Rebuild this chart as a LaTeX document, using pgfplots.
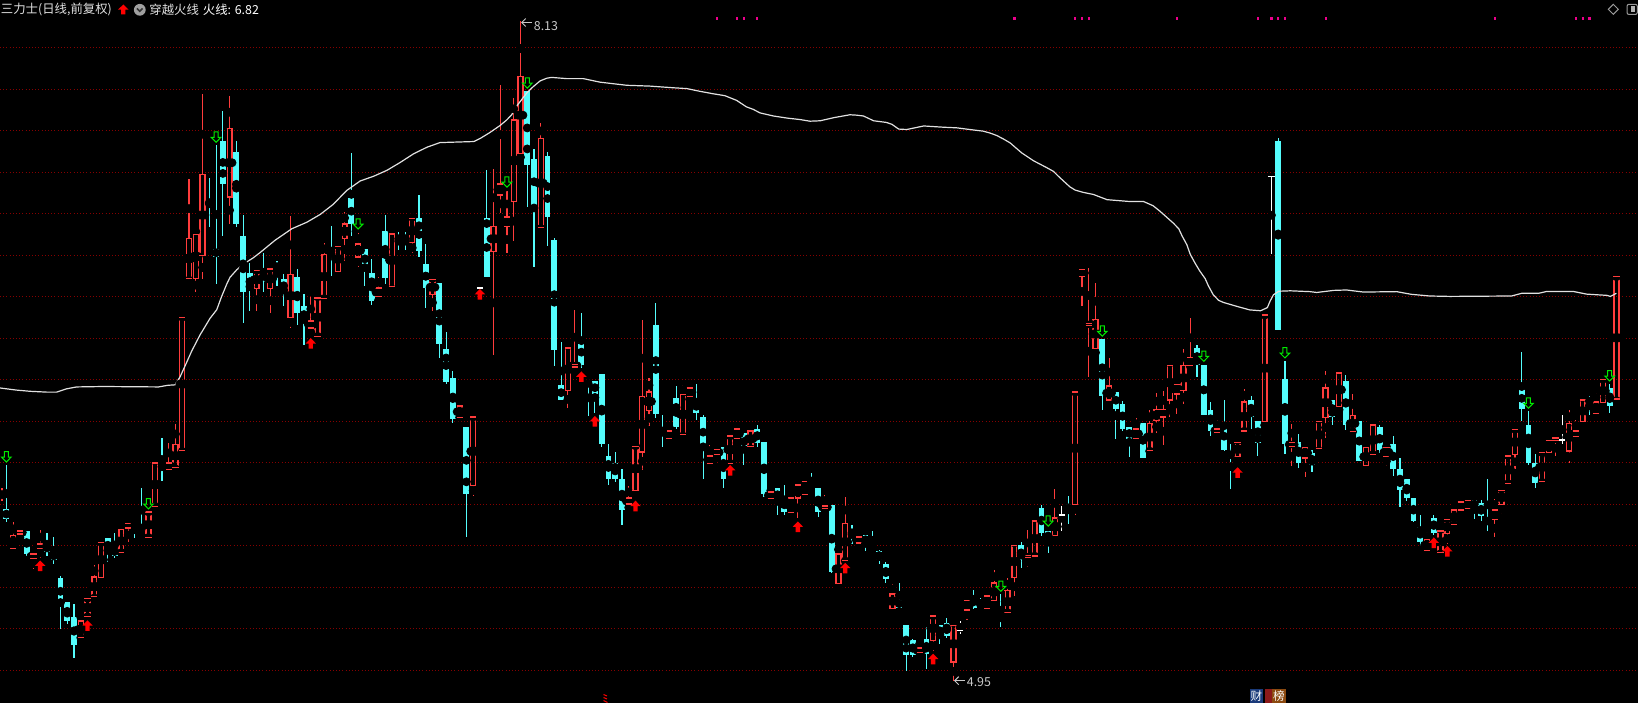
\documentclass[border=0pt]{standalone}
\usepackage{pgfplots}
\pgfplotsset{compat=1.18}
\usepackage{pgfplotstable}
\usepackage{fontspec}
\newfontfamily\cjk{Noto Sans CJK SC}
\usetikzlibrary{arrows.meta}

\definecolor{upred}{RGB}{255,60,60}
\definecolor{dncyan}{RGB}{84,252,252}
\definecolor{gridred}{RGB}{135,0,0}
\definecolor{fireline}{RGB}{225,225,225}
\definecolor{sigred}{RGB}{255,0,0}
\definecolor{siggreen}{RGB}{0,235,0}
\definecolor{txtgray}{RGB}{225,225,225}
\definecolor{lblgray}{RGB}{200,200,200}
\definecolor{badgeblue}{RGB}{26,58,122}
\definecolor{badgered}{RGB}{140,26,26}
\definecolor{badgebrown}{RGB}{140,74,16}

% red buy arrow, tip at the data point
\pgfdeclareplotmark{uparrow}{%
  \pgfpathmoveto{\pgfqpoint{0pt}{0pt}}%
  \pgfpathlineto{\pgfqpoint{2.6pt}{-2.7pt}}%
  \pgfpathlineto{\pgfqpoint{1.1pt}{-2.7pt}}%
  \pgfpathlineto{\pgfqpoint{1.1pt}{-5.3pt}}%
  \pgfpathlineto{\pgfqpoint{-1.1pt}{-5.3pt}}%
  \pgfpathlineto{\pgfqpoint{-1.1pt}{-2.7pt}}%
  \pgfpathlineto{\pgfqpoint{-2.6pt}{-2.7pt}}%
  \pgfpathclose
  \pgfusepathqfill}
% green hollow sell arrow, tip at the data point
\pgfdeclareplotmark{dnarrow}{%
  \pgfpathmoveto{\pgfqpoint{0pt}{0.25pt}}%
  \pgfpathlineto{\pgfqpoint{2.4pt}{2.7pt}}%
  \pgfpathlineto{\pgfqpoint{1pt}{2.7pt}}%
  \pgfpathlineto{\pgfqpoint{1pt}{5.4pt}}%
  \pgfpathlineto{\pgfqpoint{-1pt}{5.4pt}}%
  \pgfpathlineto{\pgfqpoint{-1pt}{2.7pt}}%
  \pgfpathlineto{\pgfqpoint{-2.4pt}{2.7pt}}%
  \pgfpathclose
  \pgfusepathqstroke}
% horizontal edge of a candle box
\pgfdeclareplotmark{edge}{%
  \pgfpathmoveto{\pgfqpoint{-1.55pt}{0pt}}%
  \pgfpathlineto{\pgfqpoint{1.55pt}{0pt}}%
  \pgfusepathqstroke}

\pgfplotsset{
  candleline/.style={only marks, mark=none, error bars/error mark=none,
    error bars/error bar style={draw=#1, line width=0.55pt}},
  candleside/.style={only marks, mark=none, error bars/error mark=none,
    error bars/error bar style={draw=#1, line width=0.65pt}},
  candleedge/.style={only marks, mark=edge, mark options={draw=#1, line width=0.65pt}},
}

% candles: i open high low close
\pgfplotstableread{
i o h l c
0 5.817 5.876 5.817 5.876
2 5.588 5.713 5.588 5.650
3 5.657 5.702 5.619 5.671
5 5.539 5.560 5.489 5.560
6 5.588 5.675 5.542 5.608
12 5.157 5.274 5.157 5.237
13 5.258 5.347 5.258 5.347
14 5.356 5.508 5.341 5.450
15 5.448 5.617 5.414 5.617
18 5.567 5.717 5.567 5.679
19 5.685 5.734 5.619 5.708
22 5.640 5.763 5.640 5.763
23 5.790 6.018 5.790 5.999
25 5.968 6.095 5.932 5.999
26 5.978 6.187 5.963 6.089
27 6.058 6.701 6.051 6.701
28 6.887 7.367 6.872 7.081
29 6.887 7.127 6.824 7.100
30 6.998 7.777 6.883 7.388
34 7.280 7.766 7.152 7.610
38 6.839 6.929 6.732 6.925
40 6.839 6.937 6.722 6.933
43 6.701 7.190 6.651 6.908
46 6.649 6.799 6.611 6.682
47 6.609 6.805 6.609 6.793
48 6.791 7.058 6.791 7.002
50 6.920 7.050 6.883 7.043
51 7.079 7.208 6.974 7.150
53 6.991 7.106 6.945 7.054
56 6.801 6.897 6.762 6.841
58 6.849 7.127 6.824 7.102
61 7.060 7.190 7.010 7.175
64 6.810 6.895 6.732 6.881
68 6.218 6.317 6.218 6.273
70 5.890 6.220 5.842 6.220
73 7.019 7.415 6.521 7.138
74 7.290 7.819 7.204 7.342
75 7.138 7.309 7.012 7.183
76 7.259 7.758 7.068 7.651
77 7.488 8.130 7.455 7.860
80 7.133 7.635 7.123 7.561
84 6.348 6.573 6.262 6.553
85 6.461 6.736 6.427 6.473
93 5.801 5.888 5.767 5.830
94 5.865 6.085 5.832 6.078
95 6.051 6.688 5.963 6.319
96 6.250 6.406 6.177 6.340
99 6.118 6.187 6.099 6.152
101 6.137 6.375 6.120 6.329
102 6.319 6.402 6.293 6.360
105 5.997 6.085 5.963 6.032
106 6.039 6.095 6.034 6.062
108 5.997 6.129 5.997 6.129
109 6.116 6.187 6.074 6.162
111 6.078 6.187 6.058 6.152
114 5.826 5.874 5.813 5.859
117 5.761 5.830 5.761 5.830
118 5.830 5.893 5.734 5.893
119 5.846 5.917 5.846 5.909
122 5.780 5.844 5.780 5.792
124 5.418 5.604 5.385 5.560
125 5.529 5.836 5.525 5.708
127 5.613 5.667 5.598 5.642
132 5.299 5.416 5.266 5.368
136 5.086 5.147 5.082 5.107
138 5.143 5.262 5.092 5.262
141 5.040 5.243 4.950 5.215
143 5.291 5.351 5.243 5.337
146 5.299 5.366 5.299 5.358
147 5.337 5.483 5.303 5.420
149 5.278 5.445 5.278 5.383
150 5.448 5.627 5.358 5.600
152 5.542 5.675 5.500 5.552
153 5.550 5.744 5.550 5.719
156 5.650 5.874 5.621 5.734
159 5.800 6.340 5.750 6.340
160 6.897 6.966 6.753 6.931
161 6.661 6.939 6.413 6.672
162 6.550 6.866 6.511 6.690
164 6.302 6.505 6.277 6.369
168 6.116 6.214 6.093 6.162
170 6.058 6.254 6.054 6.189
171 6.202 6.336 6.143 6.256
172 6.220 6.344 6.083 6.256
173 6.302 6.492 6.220 6.469
174 6.331 6.402 6.235 6.377
175 6.348 6.549 6.283 6.469
176 6.469 6.697 6.461 6.507
180 6.147 6.204 6.131 6.162
183 6.030 6.114 5.995 6.099
184 6.152 6.356 6.152 6.293
187 6.200 6.711 6.162 6.711
191 6.078 6.187 5.984 6.097
193 6.022 6.114 5.932 6.072
195 6.068 6.214 6.047 6.200
196 6.218 6.444 6.120 6.360
198 6.271 6.454 6.239 6.432
200 6.149 6.333 6.149 6.229
202 5.986 6.103 5.953 6.072
203 6.039 6.216 6.039 6.181
205 6.030 6.085 5.984 6.072
211 5.577 5.665 5.563 5.629
213 5.567 5.686 5.556 5.671
214 5.658 5.736 5.609 5.725
215 5.704 5.795 5.698 5.772
216 5.772 5.820 5.747 5.810
217 5.778 5.818 5.761 5.818
221 5.725 5.825 5.643 5.772
222 5.799 5.878 5.751 5.867
223 5.899 6.036 5.899 6.032
224 6.038 6.161 5.971 6.161
228 5.909 6.049 5.903 6.049
229 6.049 6.116 6.011 6.108
230 6.106 6.157 6.034 6.119
232 6.057 6.254 6.000 6.190
233 6.127 6.205 6.091 6.152
234 6.197 6.324 6.163 6.302
236 6.237 6.336 6.231 6.292
237 6.290 6.402 6.250 6.402
239 6.307 6.896 6.292 6.896
}\uptab

\pgfplotstableread{
i o h l c
1 5.775 5.989 5.713 5.730
4 5.671 5.671 5.552 5.560
7 5.608 5.663 5.552 5.571
8 5.571 5.642 5.514 5.531
9 5.441 5.452 5.201 5.320
10 5.329 5.329 5.222 5.239
11 5.253 5.320 5.061 5.124
16 5.634 5.634 5.521 5.571
17 5.592 5.663 5.542 5.552
20 5.719 5.719 5.636 5.702
21 5.700 5.878 5.665 5.671
24 5.989 6.120 5.911 5.972
31 7.261 7.372 7.133 7.234
32 7.029 7.530 6.862 6.993
33 7.549 7.695 7.092 7.344
35 7.493 7.549 7.133 7.152
36 7.092 7.194 6.674 6.824
37 6.910 6.964 6.732 6.835
39 6.925 7.010 6.824 6.872
41 6.954 6.972 6.851 6.935
42 6.881 6.910 6.753 6.824
44 6.891 6.933 6.665 6.722
45 6.751 6.814 6.565 6.676
49 7.010 7.140 6.899 7.002
52 7.271 7.493 7.092 7.152
54 7.029 7.029 6.851 6.935
55 6.910 6.981 6.762 6.782
57 7.112 7.194 6.862 6.893
59 7.083 7.112 7.023 7.075
60 7.092 7.112 7.023 7.066
62 7.175 7.290 6.993 7.023
63 6.954 7.054 6.743 6.843
65 6.862 6.862 6.502 6.574
66 6.544 6.630 6.379 6.392
67 6.404 6.442 6.191 6.214
69 6.172 6.172 5.644 5.851
72 7.175 7.411 6.893 6.899
78 7.789 7.789 7.234 7.436
79 7.463 7.509 6.945 7.244
81 7.474 7.499 7.046 7.186
82 7.073 7.081 6.465 6.546
83 6.371 6.580 6.304 6.304
86 6.592 6.722 6.454 6.473
87 6.390 6.402 6.223 6.375
88 6.390 6.390 6.239 6.333
89 6.423 6.423 6.074 6.093
90 6.032 6.089 5.895 5.922
91 5.999 6.051 5.905 5.922
92 5.922 5.968 5.702 5.775
97 6.663 6.770 6.214 6.235
98 6.152 6.231 6.074 6.141
100 6.312 6.371 6.162 6.172
103 6.302 6.379 6.204 6.241
104 6.220 6.231 5.922 6.074
107 6.072 6.072 5.880 5.922
110 6.139 6.139 5.990 6.064
112 6.162 6.183 6.074 6.099
113 6.099 6.099 5.834 5.851
115 5.878 5.878 5.750 5.813
116 5.830 5.893 5.750 5.765
120 5.901 5.951 5.872 5.880
121 5.876 5.876 5.740 5.765
123 5.796 5.796 5.468 5.477
126 5.671 5.700 5.608 5.654
128 5.650 5.650 5.573 5.608
129 5.608 5.671 5.581 5.590
130 5.573 5.581 5.514 5.533
131 5.512 5.521 5.420 5.441
133 5.339 5.420 5.303 5.303
134 5.218 5.218 4.996 5.074
135 5.143 5.149 5.063 5.074
137 5.149 5.207 5.007 5.082
139 5.215 5.215 5.126 5.165
140 5.226 5.253 5.155 5.165
144 5.358 5.389 5.295 5.303
145 5.329 5.349 5.295 5.303
148 5.264 5.368 5.211 5.243
151 5.600 5.619 5.491 5.531
154 5.782 5.794 5.646 5.665
155 5.671 5.671 5.563 5.623
158 5.800 5.842 5.705 5.765
163 6.592 6.592 6.252 6.323
165 6.340 6.340 6.114 6.262
166 6.283 6.296 6.155 6.164
167 6.172 6.172 6.026 6.110
169 6.191 6.191 6.026 6.026
177 6.550 6.569 6.413 6.473
178 6.469 6.469 6.233 6.233
179 6.250 6.292 6.131 6.156
181 6.191 6.302 6.054 6.064
182 6.051 6.091 5.872 6.026
185 6.302 6.319 6.162 6.223
186 6.200 6.200 6.032 6.099
189 7.549 7.562 6.642 6.642
190 6.402 6.490 6.043 6.093
192 6.097 6.139 5.974 6.001
194 6.043 6.062 5.953 5.990
197 6.302 6.302 6.183 6.220
199 6.390 6.423 6.156 6.183
201 6.200 6.200 6.009 6.009
204 6.172 6.181 6.047 6.062
206 6.089 6.128 5.936 5.970
207 5.970 6.022 5.786 5.872
208 5.922 5.922 5.815 5.832
209 5.830 5.830 5.713 5.721
210 5.690 5.748 5.598 5.621
212 5.730 5.748 5.654 5.665
218 5.820 5.820 5.730 5.782
219 5.804 5.820 5.721 5.747
220 5.727 5.922 5.672 5.711
225 6.360 6.533 6.201 6.260
226 6.182 6.248 5.990 6.000
227 5.998 6.040 5.880 5.903
235 6.311 6.319 6.231 6.283
238 6.360 6.379 6.239 6.275
}\dntab

\pgfplotstableread{
i o h l c
71 6.841 6.845 6.837 6.841
142 5.191 5.239 5.174 5.191
157 5.748 5.792 5.673 5.748
188 7.380 7.380 7.004 7.380
231 6.110 6.228 6.091 6.110
}\flattab

% 火线
\pgfplotstableread{
i p
0.06 6.360
2.42 6.350
4.49 6.344
6.96 6.340
8.44 6.340
9.92 6.356
11.4 6.365
15.3 6.367
23.5 6.365
24.9 6.373
25.93 6.375
26.67 6.413
27.4 6.465
28.4 6.538
29.62 6.615
31.1 6.695
32.1 6.737
32.8 6.799
33.6 6.862
34.06 6.893
35.05 6.929
36.0 6.956
37.5 6.987
38.5 7.012
40.7 7.071
43.2 7.127
45.4 7.158
47.4 7.196
49.3 7.244
51.3 7.311
53.3 7.357
55.3 7.380
57.3 7.409
59.2 7.446
61.2 7.488
63.2 7.520
65.1 7.542
70.1 7.547
71.1 7.563
72.5 7.591
73.97 7.624
74.96 7.651
75.7 7.676
76.44 7.718
77.18 7.749
77.92 7.781
78.9 7.812
79.9 7.839
80.87 7.852
81.6 7.856
83.83 7.850
86.3 7.850
88.75 7.833
92.7 7.818
96.15 7.814
99.6 7.806
101.6 7.802
103.5 7.789
105.5 7.777
107.2 7.768
107.97 7.758
108.96 7.745
109.7 7.729
110.4 7.714
111.4 7.702
112.4 7.685
114.4 7.670
116.4 7.660
118.3 7.653
119.8 7.645
121.3 7.647
123.3 7.662
125.7 7.676
126.7 7.674
127.7 7.670
129.2 7.647
131.1 7.639
131.9 7.630
132.9 7.607
134.1 7.605
136.6 7.622
139.5 7.616
141.5 7.613
143.4 7.605
145.4 7.597
146.4 7.588
147.4 7.576
148.4 7.559
149.4 7.540
150.1 7.520
151.1 7.492
152.8 7.455
154.8 7.421
155.8 7.403
156.5 7.380
157.2 7.359
158.2 7.329
159.0 7.313
160.2 7.302
161.7 7.292
163.7 7.267
167.1 7.258
169.1 7.258
170.5 7.238
171.5 7.212
172.5 7.183
173.5 7.154
174.3 7.127
174.8 7.092
175.5 7.050
176.0 7.004
176.7 6.962
177.4 6.924
178.2 6.887
178.7 6.851
179.4 6.809
180.2 6.782
180.9 6.772
182.9 6.753
184.8 6.736
186.4 6.732
187.4 6.747
187.8 6.778
188.3 6.809
189.1 6.826
190.8 6.828
193.7 6.824
194.7 6.820
197.2 6.830
199.1 6.832
201.6 6.822
206.5 6.824
208.7 6.811
211.4 6.803
214.4 6.801
223.5 6.803
225.0 6.816
227.5 6.816
228.7 6.825
232.6 6.825
234.6 6.812
237.6 6.806
238.1 6.801
239.0 6.816
}\fire

\begin{document}
\begin{tikzpicture}
\fill[black] (0,0) rectangle (819pt,351.5pt);
\begin{axis}[
  at={(0pt,0pt)}, anchor=south west,
  scale only axis, width=819pt, height=351.5pt,
  xmin=0.06, xmax=242.19, ymin=4.8425, ymax=8.2288,
  axis line style={draw=none},
  xtick=\empty,
  ytick={5,5.2,...,8.01},
  yticklabels={},
  major tick length=0pt,
  ymajorgrids,
  grid style={gridred, line width=0.5pt, dash pattern=on 0.5pt off 1.1pt},
  every axis plot/.append style={line cap=butt},
]
% rising candles: hollow red boxes, wicks outside the box
\addplot[candleline=upred, error bars/.cd, y dir=both, y explicit]
  table[x=i, y expr={(\thisrow{h}+max(\thisrow{o},\thisrow{c}))/2},
        y error expr={(\thisrow{h}-max(\thisrow{o},\thisrow{c}))/2}] {\uptab};
\addplot[candleline=upred, error bars/.cd, y dir=both, y explicit]
  table[x=i, y expr={(\thisrow{l}+min(\thisrow{o},\thisrow{c}))/2},
        y error expr={(min(\thisrow{o},\thisrow{c})-\thisrow{l})/2}] {\uptab};
\addplot[candleside=upred, error bars/.cd, y dir=both, y explicit]
  table[x expr={\thisrow{i}-0.36}, y expr={(\thisrow{o}+\thisrow{c})/2},
        y error expr={abs(\thisrow{c}-\thisrow{o})/2+0.003}] {\uptab};
\addplot[candleside=upred, error bars/.cd, y dir=both, y explicit]
  table[x expr={\thisrow{i}+0.36}, y expr={(\thisrow{o}+\thisrow{c})/2},
        y error expr={abs(\thisrow{c}-\thisrow{o})/2+0.003}] {\uptab};
\addplot[candleedge=upred] table[x=i, y expr={max(\thisrow{o},\thisrow{c})}] {\uptab};
\addplot[candleedge=upred] table[x=i, y expr={min(\thisrow{o},\thisrow{c})}] {\uptab};
% falling candles: filled cyan
\addplot[candleline=dncyan, error bars/.cd, y dir=both, y explicit]
  table[x=i, y expr={(\thisrow{h}+\thisrow{l})/2}, y error expr={(\thisrow{h}-\thisrow{l})/2}] {\dntab};
\addplot[only marks, mark=none, error bars/.cd, y dir=both, y explicit, error mark=none,
  error bar style={draw=dncyan, line width=2.9pt}]
  table[x=i, y expr={(\thisrow{o}+\thisrow{c})/2}, y error expr={abs(\thisrow{c}-\thisrow{o})/2+0.002}] {\dntab};
% unchanged candles: white cross
\addplot[candleline=white, error bars/.cd, y dir=both, y explicit]
  table[x=i, y expr={(\thisrow{h}+\thisrow{l})/2}, y error expr={(\thisrow{h}-\thisrow{l})/2}] {\flattab};
\addplot[candleedge=white] table[x=i, y=o] {\flattab};
% fire line
\addplot[fireline, line width=0.6pt, mark=none] table[x=i, y=p] {\fire};
% signals
\addplot[only marks, mark=uparrow, color=sigred] coordinates {
  (6,5.529) (13,5.241) (46,6.600) (71,6.837) (86,6.440) (88,6.225) (94,5.817)
  (108,5.989) (118,5.717) (125,5.518) (138,5.080) (183,5.978) (212,5.640) (214,5.599)};
\addplot[only marks, mark=dnarrow, color=siggreen, mark options={line width=0.5pt}] coordinates {
  (1,6.001) (22,5.775) (32,7.541) (53,7.123) (75,7.325) (78,7.802) (148,5.378)
  (155,5.692) (163,6.607) (178,6.486) (190,6.502) (226,6.260) (238,6.391)};
% event dots on top
\addplot[only marks, mark=square*, mark size=0.8pt, mark options={draw=none, fill=magenta}] coordinates {
  (106,8.14) (109,8.14) (110,8.14) (112,8.14) (150,8.14) (159,8.14) (160,8.14) (161,8.14)
  (174,8.14) (186,8.14) (188,8.14) (189,8.14) (190,8.14) (196,8.14) (221,8.14)
  (233,8.14) (234,8.14) (235,8.14)};
\end{axis}

% header and labels, in pixel units of the 1638x703 frame
\begin{scope}[x=0.5pt, y=-0.5pt, yshift=351.5pt]
  \node[anchor=west, inner sep=0, text=txtgray, font=\cjk\fontsize{6.2}{7}\selectfont] at (0.5,9.5) {三力士(日线,前复权)};
  \fill[sigred] (123.3,4.5) -- (128.5,9.6) -- (125.4,9.6) -- (125.4,14.3) -- (121.2,14.3) -- (121.2,9.6) -- (118.1,9.6) -- cycle;
  \fill[gray!75] (139.8,9.8) circle (5.9);
  \draw[black!80, line width=0.8pt] (137,8.5) -- (139.8,11.3) -- (142.6,8.5);
  \node[anchor=west, inner sep=0, text=txtgray, font=\cjk\fontsize{6.2}{7}\selectfont] at (149,9.5) {穿越火线};
  \node[anchor=west, inner sep=0, text=white, font=\cjk\fontsize{6.2}{7}\selectfont] at (202.5,9.5) {火线: 6.82};
  % extreme labels
  \draw[lblgray, line width=0.5pt, {Straight Barb[length=2pt,width=4pt]}-] (521,22.5) -- (532,22.5);
  \node[anchor=west, inner sep=0, text=lblgray, font=\cjk\fontsize{6.2}{7}\selectfont] at (533.5,25.8) {8.13};
  \draw[lblgray, line width=0.5pt, {Straight Barb[length=2pt,width=4pt]}-] (954,680.7) -- (965,680.7);
  \node[anchor=west, inner sep=0, text=lblgray, font=\cjk\fontsize{6.2}{7}\selectfont] at (966.5,682.5) {4.95};
  % top right icons
  \draw[gray!80, line width=0.5pt] (1613.3,4.3) -- (1618.3,9.3) -- (1613.3,14.3) -- (1608.3,9.3) -- cycle;
  \draw[gray!80, line width=0.5pt, rounded corners=1pt] (1627,4.3) rectangle (1637.3,14.5);
  \fill[gray!60] (1631,6.5) rectangle (1634.5,12.3);
  % small red mark under the chart
  \draw[sigred, line width=0.5pt] (603.5,694.5) -- (607,696) (603.5,697.5) -- (607,699) (603.5,700.5) -- (607.5,702.5);
  % bottom badges
  \fill[badgeblue] (1250,689) rectangle (1263,703);
  \node[inner sep=0, text=white, font=\cjk\fontsize{5.8}{6}\selectfont] at (1256.5,696.5) {财};
  \fill[badgered] (1265,689) rectangle (1272,703);
  \fill[badgebrown] (1272,689) rectangle (1286,703);
  \node[inner sep=0, text=white, font=\cjk\fontsize{5.8}{6}\selectfont] at (1279,696.5) {榜};
\end{scope}
\pgfresetboundingbox
\useasboundingbox (0,0) rectangle (819pt,351.5pt);
\end{tikzpicture}
\end{document}
